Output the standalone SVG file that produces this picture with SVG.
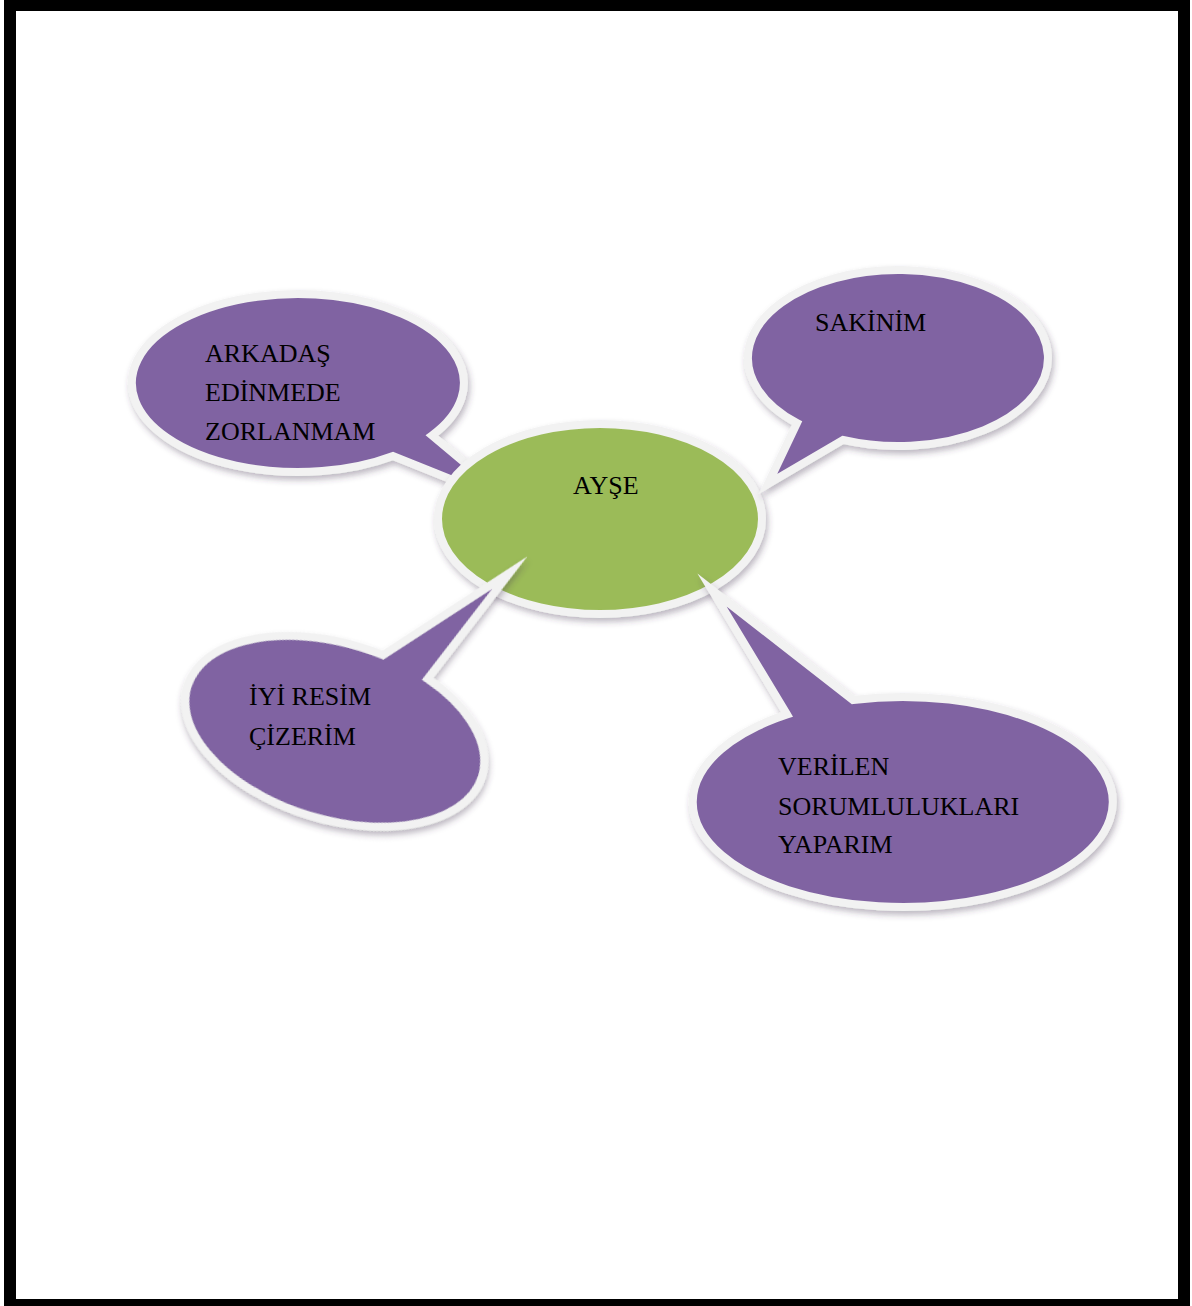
<svg xmlns="http://www.w3.org/2000/svg" width="1192" height="1306" viewBox="0 0 1192 1306">
<defs>
<filter id="sh" x="-20%" y="-20%" width="140%" height="150%">
<feDropShadow dx="2" dy="4" stdDeviation="3" flood-color="#3f3151" flood-opacity="0.35"/>
</filter>
</defs>
<style>
.bub{fill:#8064a2;stroke:#f2f2f2;stroke-width:8;stroke-linejoin:miter;stroke-miterlimit:20;filter:url(#sh)}
.ctr{fill:#9bbb59;stroke:#f2f2f2;stroke-width:8;filter:url(#sh)}
.t{font-family:"Liberation Serif","DejaVu Serif",serif;font-size:26px;fill:#000}
</style>
<rect x="0" y="0" width="1192" height="1306" fill="#ffffff"/>
<rect x="10" y="5" width="1174" height="1300" fill="none" stroke="#000" stroke-width="12"/>
<g id="connectors"></g>
<g id="node-arkadas">
<path class="bub" d="M 432 435.5 L 515 505 L 393 456 A 166 89 0 1 1 432 435.5 Z"/>
<text class="t" x="205" y="362">ARKADAŞ</text>
<text class="t" x="205" y="401">EDİNMEDE</text>
<text class="t" x="205" y="440">ZORLANMAM</text>
</g>
<g id="node-ayse">
<ellipse class="ctr" cx="600" cy="519" rx="162" ry="95"/>
<text class="t" x="573" y="494">AYŞE</text>
</g>
<g id="node-sakinim">
<path class="bub" d="M 797 423.1 L 768 484 L 843 439.9 A 150 88 0 1 0 797 423.1 Z"/>
<text class="t" x="815" y="331">SAKİNİM</text>
</g>
<g id="node-resim">
<path class="bub" transform="translate(333 730) rotate(17)" d="M 26 -86.2 L 123 -202 L 75.6 -76.6 A 154 88 0 1 1 26 -86.2 Z"/>
<text class="t" x="249" y="705">İYİ RESİM</text>
<text class="t" x="249" y="745">ÇİZERİM</text>
</g>
<g id="node-sorumluluk">
<path class="bub" d="M 787 714.4 L 712 590 L 853 700 A 210 105 0 1 1 787 714.4 Z"/>
<text class="t" x="778" y="775">VERİLEN</text>
<text class="t" x="778" y="815">SORUMLULUKLARI</text>
<text class="t" x="778" y="853">YAPARIM</text>
</g>
</svg>
